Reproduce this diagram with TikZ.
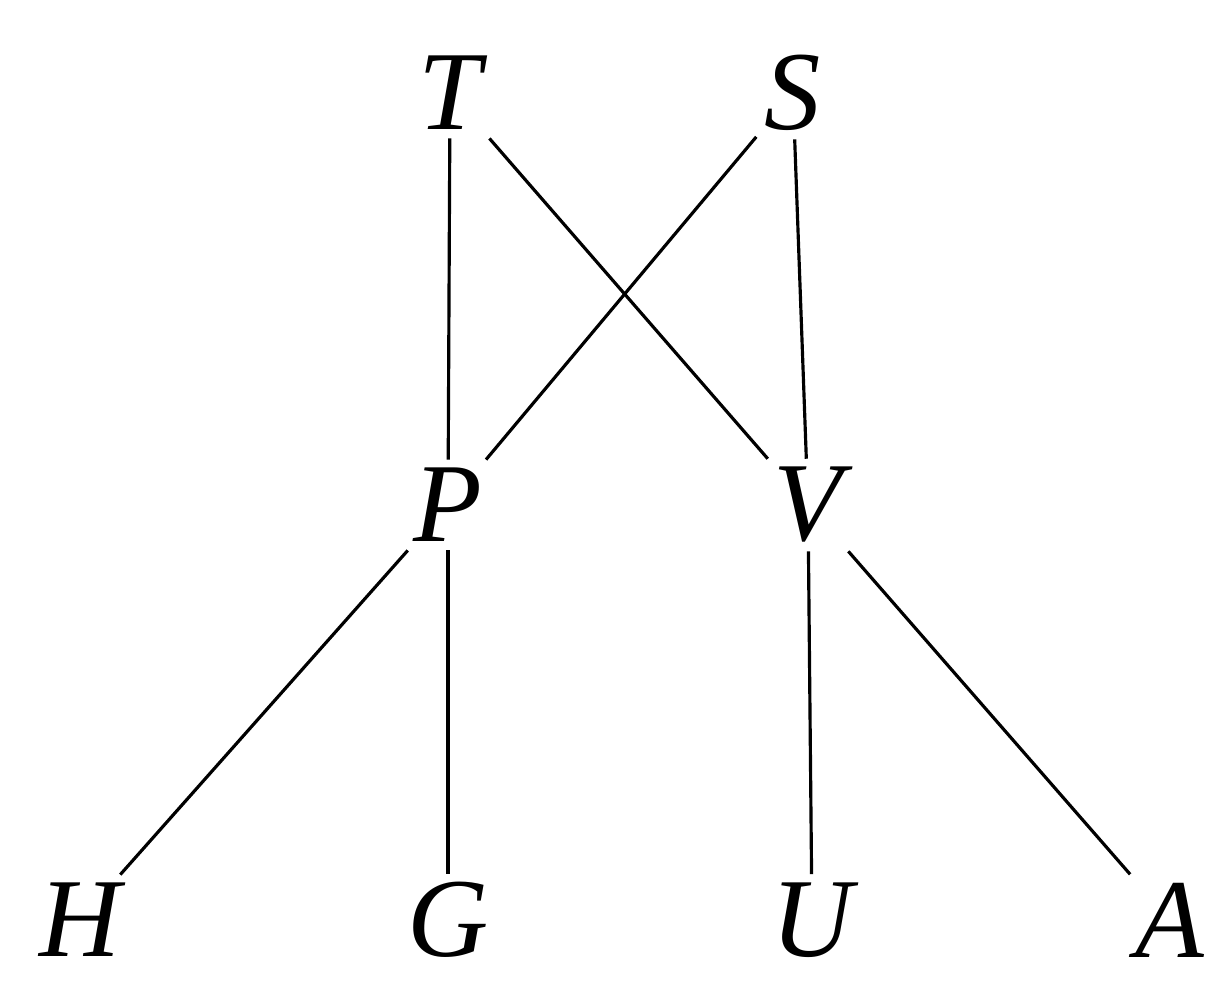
\documentclass[tikz,border=0pt]{standalone}
\usepackage{fontspec}
\setmainfont{Liberation Serif}
\usepackage{tikz}

\begin{document}
\begin{tikzpicture}[letter/.style={font=\fontsize{32}{36}\selectfont\itshape,inner sep=2pt},
  every path/.style={line width=0.9pt}]
\useasboundingbox (0,0) rectangle (12.27,-9.86);
\node[letter] (T) at (4.50,-0.93) {T};
\node[letter] (S) at (7.93,-0.93) {S};
\node[letter] (P) at (4.48,-5.05) {P};
\node[letter] (V) at (8.08,-5.05) {V};
\node[letter] (H) at (0.80,-9.20) {H};
\node[letter] (G) at (4.48,-9.20) {G};
\node[letter] (U) at (8.12,-9.20) {U};
\node[letter] (A) at (11.70,-9.20) {A};
\draw (T) -- (P);
\draw (T) -- (V);
\draw (S) -- (P);
\draw (S) -- (V);
\draw (P) -- (H);
\draw (P) -- (G);
\draw (V) -- (U);
\draw (V) -- (A);
\end{tikzpicture}
\end{document}
